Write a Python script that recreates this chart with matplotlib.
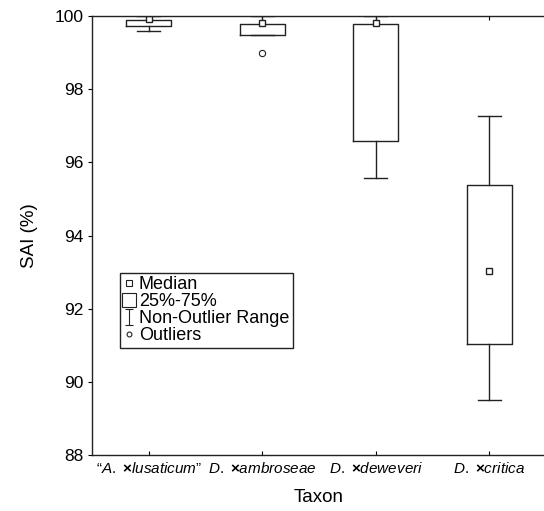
import matplotlib
matplotlib.use("Agg")
import matplotlib.pyplot as plt
from matplotlib.lines import Line2D
from matplotlib.path import Path

plt.rcParams['font.family'] = ['Liberation Sans', 'DejaVu Sans']
plt.rcParams['mathtext.fontset'] = 'custom'
plt.rcParams['mathtext.rm'] = 'Liberation Sans'
plt.rcParams['mathtext.it'] = 'Liberation Sans:italic'
plt.rcParams['mathtext.bf'] = 'Liberation Sans:bold'

# values
taxa = [r'$\mathit{“A.}\ \mathbf{×}\mathit{lusaticum”}$',
        r'$\mathit{D.}\ \mathbf{×}\mathit{ambroseae}$',
        r'$\mathit{D.}\ \mathbf{×}\mathit{deweveri}$',
        r'$\mathit{D.}\ \mathbf{×}\mathit{critica}$']
medians = [99.91, 99.80, 99.80, 93.03]
q1 = [99.73, 99.49, 96.59, 91.04]
q3 = [99.89, 99.79, 99.79, 95.38]
whis_lo = [99.59, 99.49, 95.58, 89.49]
whis_hi = [100.0, 100.0, 100.0, 97.28]
outliers = [[], [99.0], [], []]

stats = []
for i in range(len(taxa)):
    stats.append(dict(med=medians[i], q1=q1[i], q3=q3[i], whislo=whis_lo[i],
                      whishi=whis_hi[i], fliers=outliers[i], mean=medians[i]))

fig = plt.figure(figsize=(5.44, 5.11), dpi=100)
ax = fig.add_axes([92/544, 1 - 455/511, 454/544, 439/511])

lc = '#222222'
ax.bxp(stats, positions=[1, 2, 3, 4], widths=0.4, capwidths=0.2,
       showmeans=True, patch_artist=False,
       boxprops=dict(color=lc, lw=1),
       whiskerprops=dict(color=lc, lw=1),
       capprops=dict(color=lc, lw=1),
       medianprops=dict(lw=0),
       meanprops=dict(marker='s', markersize=4.5, markerfacecolor='white',
                      markeredgecolor=lc, markeredgewidth=1),
       flierprops=dict(marker='o', markersize=4.5, markerfacecolor='white',
                       markeredgecolor=lc, markeredgewidth=0.8))

ax.set_xlim(0.5, 4.5)
ax.set_ylim(88, 100)
ax.set_yticks([88, 90, 92, 94, 96, 98, 100])
ax.set_xticks([1, 2, 3, 4])
ax.set_xticklabels(taxa, fontsize=11)
ax.tick_params(axis='y', labelsize=12.5, direction='out', length=3, width=0.8,
               right=True, pad=3)
ax.tick_params(axis='x', direction='in', length=3, width=0.8, top=True, pad=4)
for sp in ax.spines.values():
    sp.set_linewidth(1)
    sp.set_color(lc)
ax.set_xlabel('Taxon', fontsize=13.5, labelpad=10)
ax.set_ylabel('SAI (%)', fontsize=13.5, labelpad=12)

ibeam = Path([(-0.45, 1), (0.45, 1), (0, 1), (0, -1), (-0.45, -1), (0.45, -1)],
             [Path.MOVETO, Path.LINETO, Path.MOVETO, Path.LINETO,
              Path.MOVETO, Path.LINETO])
handles = [
    Line2D([], [], ls='none', marker='s', markersize=4, markerfacecolor='white',
           markeredgecolor=lc, markeredgewidth=0.8),
    Line2D([], [], ls='none', marker='s', markersize=10, markerfacecolor='white',
           markeredgecolor=lc, markeredgewidth=0.8),
    Line2D([], [], ls='none', marker=ibeam, markersize=12, color=lc,
           markeredgewidth=0.8),
    Line2D([], [], ls='none', marker='o', markersize=3.5, markerfacecolor='white',
           markeredgecolor=lc, markeredgewidth=0.8),
]
labels = ['Median', '25%-75%', 'Non-Outlier Range', 'Outliers']
leg = ax.legend(handles, labels, loc='upper left',
                bbox_to_anchor=(0.0617, 0.415), fontsize=13,
                handlelength=0.6, handletextpad=0.25, labelspacing=0.0,
                borderpad=0.2, borderaxespad=0, fancybox=False,
                framealpha=1, edgecolor=lc)
leg.get_frame().set_linewidth(1)

fig.savefig('out.png', dpi=100)
